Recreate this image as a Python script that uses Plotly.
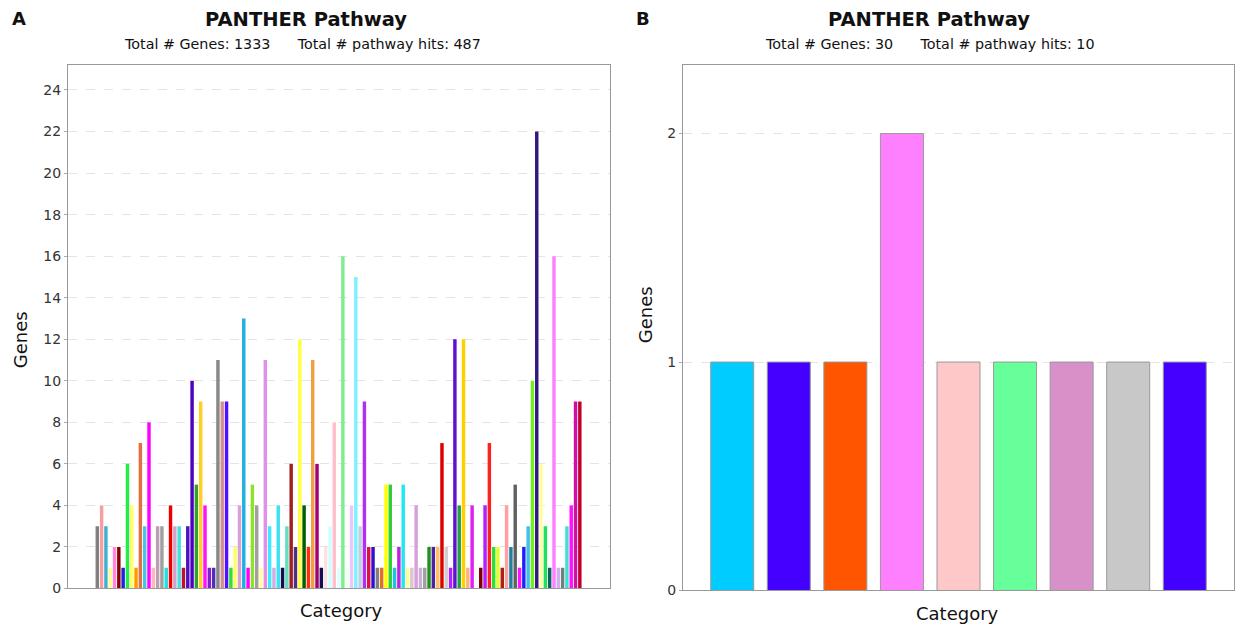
import plotly.graph_objects as go

# ---------- Panel A data ----------
a_values = [3, 4, 3, 1, 2, 2, 1, 6, 4, 1,
            7, 3, 8, 1, 3, 3, 1, 4, 3, 3,
            1, 3, 10, 5, 9, 4, 1, 1, 11, 9,
            9, 1, 2, 4, 13, 1, 5, 4, 1, 11,
            3, 1, 4, 1, 3, 6, 2, 12, 4, 2,
            11, 6, 1, 2, 3, 8, 1, 16, 1, 4,
            15, 3, 9, 2, 2, 1, 1, 5, 5, 1,
            2, 5, 1, 1, 4, 1, 1, 2, 2, 2,
            7, 2, 1, 12, 4, 12, 1, 4, 1, 1,
            4, 7, 2, 2, 1, 4, 2, 5, 1, 2,
            3, 10, 22, 6, 3, 1, 16, 1, 1, 3,
            4, 9, 9]
a_colors = ["#808080", "#f4a0a0", "#40b0d0", "#ffff99", "#ff88dd", "#8b0000", "#2020e0", "#22ee44", "#ffff66", "#ff9900",
            "#e07040", "#40c8e0", "#ff00ff", "#ffb6c1", "#b8a0b0", "#a0a0a0", "#20e0e0", "#ee0000", "#d8a0c8", "#40e0e0",
            "#c01030", "#5010c0", "#5000c0", "#30a030", "#ffd020", "#ff10ff", "#8020d0", "#5030b0", "#888888", "#d09090",
            "#5010ff", "#30e030", "#ffff60", "#d8a0d8", "#20b0e0", "#ff00ff", "#90e030", "#a0a0a0", "#ffffa0", "#e090e8",
            "#40e8ff", "#d0b0e0", "#40e0f0", "#101050", "#60e0c0", "#a02020", "#503080", "#ffff40", "#006000", "#ff3010",
            "#f0a040", "#a0007a", "#101050", "#ffe0e0", "#d0ffff", "#ffc0cb", "#e0ffff", "#80ee90", "#f0fff0", "#e8c8f8",
            "#80f0ff", "#c0d0e0", "#b030f0", "#e01040", "#3010d0", "#808080", "#e07020", "#ffff00", "#30d030", "#20c0e0",
            "#c020e0", "#20e8f0", "#ffff90", "#d8c8d0", "#d8a0d8", "#c8b0d8", "#a0a0a0", "#209020", "#5020a0", "#ffc060",
            "#dd0000", "#d0d0d0", "#b020ff", "#6010d0", "#20a040", "#ffd000", "#ffb080", "#e020f0", "#f8f8ff", "#800000",
            "#b020ff", "#ff2020", "#30e030", "#e0ff30", "#b02010", "#ffa0a0", "#2080a0", "#606060", "#ff10ff", "#2020ff",
            "#40c0e8", "#70f020", "#301880", "#ffffa0", "#20e060", "#106060", "#ff80ff", "#d0b0f0", "#708080", "#40e0d0",
            "#ff10ff", "#d010a0", "#c00030"]
a_ticks = list(range(0, 25, 2))

# ---------- Panel B data ----------
b_values = [1, 1, 1, 2, 1, 1, 1, 1, 1]
b_colors = ["#00ccff", "#4400ff", "#ff5500", "#ff80ff", "#ffc8c8", "#66ff99", "#d890c8", "#c8c8c8", "#4400ff"]
b_ticks = [0, 1, 2]

W, H = 1236, 628
FH = 619.5  # effective rendered height used for positioning
def px(x):
    return x / W
def py(y):
    return 1 - y / FH

n_a = len(a_values)
fig = go.Figure()
fig.add_trace(go.Bar(x=list(range(n_a)), y=a_values, marker=dict(color=a_colors, line=dict(width=0)),
                     xaxis="x", yaxis="y", showlegend=False, hoverinfo="y"))
fig.add_trace(go.Bar(x=list(range(len(b_values))), y=b_values,
                     marker=dict(color=b_colors, line=dict(width=1, color="#999999")),
                     xaxis="x2", yaxis="y2", showlegend=False, hoverinfo="y", width=0.76))

font = "DejaVu Sans, Arial, sans-serif"
axis_common = dict(showline=True, linecolor="#999999", linewidth=1, mirror=True, zeroline=False)

fig.update_layout(
    width=W, height=H,
    margin=dict(l=0, r=0, t=0, b=0),
    paper_bgcolor="white", plot_bgcolor="white",
    bargap=0.2,
    font=dict(family=font, color="#333333"),
    xaxis=dict(domain=[px(68), px(610)], range=[-0.5 - 6.3, n_a - 0.5 + 6.5],
               showticklabels=False, showgrid=False, ticks="", **axis_common),
    yaxis=dict(domain=[py(588), py(65)], range=[0, 25.2], tickvals=a_ticks,
               showgrid=True, gridcolor="#e4e4e4", griddash="dash", gridwidth=1,
               ticks="outside", ticklen=3, tickcolor="#aaaaaa",
               tickfont=dict(size=14, color="#333333"), **axis_common),
    xaxis2=dict(domain=[px(683), px(1234)], range=[-0.87, 8.87],
                showticklabels=False, showgrid=False, ticks="", anchor="y2", **axis_common),
    yaxis2=dict(domain=[py(590), py(65)], range=[0, 2.3], tickvals=b_ticks,
                showgrid=True, gridcolor="#e4e4e4", griddash="dash", gridwidth=1,
                ticks="outside", ticklen=3, tickcolor="#aaaaaa",
                tickfont=dict(size=14, color="#333333"), anchor="x2", **axis_common),
)

ann = []
def add(text, x, y, size, bold=False, angle=0, xanchor="center"):
    ann.append(dict(text=("<b>%s</b>" % text) if bold else text, x=px(x), y=py(y),
                    xref="paper", yref="paper", showarrow=False, xanchor=xanchor, yanchor="middle",
                    textangle=angle, font=dict(family=font, size=size, color="#111111")))

sp = "&nbsp;" * 6
add("A", 10, 18, 18, bold=True, xanchor="left")
add("B", 634, 18, 18, bold=True, xanchor="left")
add("PANTHER Pathway", 306, 19, 19.5, bold=True)
add("Total # Genes: 1333" + sp + "Total # pathway hits: 487", 302, 44, 14.3)
add("PANTHER Pathway", 929, 19, 19.5, bold=True)
add("Total # Genes: 30" + sp + "Total # pathway hits: 10", 930, 44, 14.3)
add("Genes", 20, 340, 18, angle=-90)
add("Genes", 645, 315, 18, angle=-90)
add("Category", 341, 610, 18)
add("Category", 958, 613, 18)
fig.update_layout(annotations=ann)

fig.write_html("out.html")
